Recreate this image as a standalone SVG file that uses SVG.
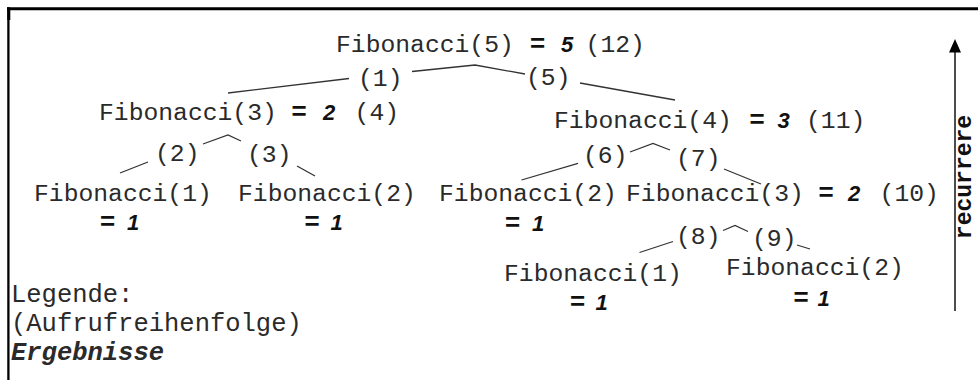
<svg xmlns="http://www.w3.org/2000/svg" width="978" height="380" viewBox="0 0 978 380">
<style>
.m{font-family:"Liberation Mono","Courier New",monospace;font-size:24.7px;fill:#2a2a2a}
.r{font-family:"Liberation Sans",Arial,sans-serif;font-weight:bold;font-style:italic;font-size:22px;fill:#111}
.eq{font-size:26px}
.lg{font-family:"Liberation Mono","Courier New",monospace;font-size:25.5px;fill:#2a2a2a}
.c{fill:none;stroke:#333;stroke-width:1.3;stroke-linejoin:miter}
</style>
<rect width="978" height="380" fill="#fff"/>
<g id="frame">
<line x1="7" y1="8.8" x2="978" y2="8.8" stroke="#000" stroke-width="3"/>
<line x1="8.4" y1="7.5" x2="8.4" y2="380" stroke="#000" stroke-width="2.3"/>
<line x1="8.8" y1="7.5" x2="8.8" y2="20" stroke="#000" stroke-width="3"/>
</g>
<g id="connectors">
<polyline class="c" points="228,93 349,78.5"/>
<polyline class="c" points="412,71.5 475,65 525,74"/>
<polyline class="c" points="580,83 675,100"/>
<polyline class="c" points="120,173 148,162"/>
<polyline class="c" points="203,144 228,135 241,141"/>
<polyline class="c" points="297,166 315,176"/>
<polyline class="c" points="521.5,180 578,163.3"/>
<polyline class="c" points="630,152 653,143.5 670,150"/>
<polyline class="c" points="724,169 761,184"/>
<polyline class="c" points="639.5,252.5 673,241.5"/>
<polyline class="c" points="723,230.5 735,225.5 748,231.5"/>
<polyline class="c" points="797,245 810,249"/>
</g>
<g id="call-order">
<text class="m" x="358" y="86">(1)</text>
<text class="m" x="526" y="85">(5)</text>
<text class="m" x="155" y="161">(2)</text>
<text class="m" x="247" y="162">(3)</text>
<text class="m" x="583" y="163">(6)</text>
<text class="m" x="676" y="166">(7)</text>
<text class="m" x="676" y="244">(8)</text>
<text class="m" x="752" y="246">(9)</text>
</g>
<g id="fib5">
<text class="m" x="336" y="52">Fibonacci(5)</text>
<text class="r" y="52"><tspan class="eq" x="529.5">=</tspan><tspan x="561">5</tspan></text>
<text class="m" x="585.6" y="52">(12)</text>
</g>
<g id="fib3a">
<text class="m" x="99" y="120">Fibonacci(3)</text>
<text class="r" y="120"><tspan class="eq" x="291">=</tspan><tspan x="323">2</tspan></text>
<text class="m" x="354.6" y="120">(4)</text>
</g>
<g id="fib4">
<text class="m" x="554" y="128">Fibonacci(4)</text>
<text class="r" y="128"><tspan class="eq" x="749">=</tspan><tspan x="777.5">3</tspan></text>
<text class="m" x="806" y="128">(11)</text>
</g>
<g id="fib1a">
<text class="m" x="34" y="201">Fibonacci(1)</text>
<text class="r" y="230"><tspan class="eq" x="99.5">=</tspan><tspan x="127">1</tspan></text>
</g>
<g id="fib2a">
<text class="m" x="238" y="201">Fibonacci(2)</text>
<text class="r" y="230"><tspan class="eq" x="304">=</tspan><tspan x="330.5">1</tspan></text>
</g>
<g id="fib2b">
<text class="m" x="439" y="201">Fibonacci(2)</text>
<text class="r" y="231"><tspan class="eq" x="504.5">=</tspan><tspan x="532">1</tspan></text>
</g>
<g id="fib3b">
<text class="m" x="626" y="201">Fibonacci(3)</text>
<text class="r" y="201"><tspan class="eq" x="818">=</tspan><tspan x="848">2</tspan></text>
<text class="m" x="879.6" y="201">(10)</text>
</g>
<g id="fib1b">
<text class="m" x="504" y="281">Fibonacci(1)</text>
<text class="r" y="310"><tspan class="eq" x="569.5">=</tspan><tspan x="595.5">1</tspan></text>
</g>
<g id="fib2c">
<text class="m" x="726" y="275">Fibonacci(2)</text>
<text class="r" y="306"><tspan class="eq" x="793">=</tspan><tspan x="817.5">1</tspan></text>
</g>
<g id="legend">
<text class="lg" x="11" y="302">Legende:</text>
<text class="lg" x="11" y="331">(Aufrufreihenfolge)</text>
<text class="lg" x="11" y="360" font-weight="bold" font-style="italic" fill="#111">Ergebnisse</text>
</g>
<g id="recurrere">
<line x1="955" y1="311" x2="955" y2="52" stroke="#000" stroke-width="1.4"/>
<path d="M955,39 L949,52.5 L961,52.5 Z" fill="#000"/>
<text x="971" y="177" transform="rotate(-90 971 177)" text-anchor="middle" font-family="Liberation Mono, Courier New, monospace" font-weight="bold" font-size="23px" fill="#111">recurrere</text>
</g>
</svg>
